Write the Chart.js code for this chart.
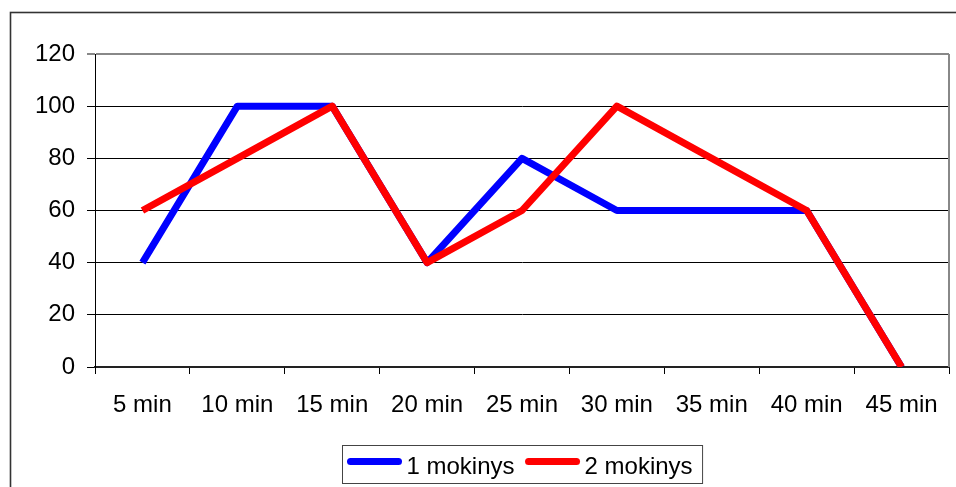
<!DOCTYPE html>
<html>
<head>
<meta charset="utf-8">
<script src="https://cdn.jsdelivr.net/npm/chart.js@4/dist/chart.umd.min.js"></script>
<style>
  html, body { margin: 0; padding: 0; background: #fff; }
  #wrap { width: 956px; height: 487px; }
</style>
</head>
<body>
<div id="wrap"><canvas id="c" width="956" height="487"></canvas></div>
<script>
const categories = ['5 min', '10 min', '15 min', '20 min', '25 min', '30 min', '35 min', '40 min', '45 min'];
const mokinys1 = [40, 100, 100, 40, 80, 60, 60, 60, 0];
const mokinys2 = [60, 80, 100, 40, 60, 100, 80, 60, 0];
const yTicks = { min: 0, max: 120, step: 20 };

const FONT = '"Liberation Sans", Arial, sans-serif';

// Outer frame and the grey right edge of the plot area
const framePlugin = {
  id: 'frame',
  beforeDraw(chart) {
    const ctx = chart.ctx;
    ctx.save();
    ctx.fillStyle = '#fff';
    ctx.fillRect(0, 0, chart.width, chart.height);
    ctx.strokeStyle = '#333';
    ctx.lineWidth = 1.6;
    ctx.strokeRect(10.5, 12.5, chart.width + 20, chart.height + 20);
    ctx.restore();
  },
  afterDatasetsDraw(chart) {
    const { right, top, bottom } = chart.chartArea;
    const ctx = chart.ctx;
    ctx.save();
    ctx.strokeStyle = '#888';
    ctx.lineWidth = 2;
    ctx.beginPath();
    ctx.moveTo(right, top);
    ctx.lineTo(right, bottom);
    ctx.stroke();
    ctx.restore();
  }
};

// Boxed legend under the axis, built from the datasets
const boxedLegend = {
  id: 'boxedLegend',
  afterDraw(chart) {
    const ctx = chart.ctx;
    const { left, right } = chart.chartArea;
    ctx.save();
    ctx.font = '24px ' + FONT;
    const sample = 54, gap = 5, itemGap = 11, padL = 5, padR = 10;
    const items = chart.data.datasets.map(ds => ({
      label: ds.label, color: ds.borderColor, w: ctx.measureText(ds.label).width
    }));
    let total = padL + padR + itemGap * (items.length - 1);
    items.forEach(it => { total += sample + gap + it.w; });
    const boxLeft = Math.round((left + right) / 2 - total / 2) + 0.5;
    const boxBottom = chart.height - 3.5;
    const boxTop = boxBottom - 38;
    ctx.strokeStyle = '#444';
    ctx.lineWidth = 1;
    ctx.strokeRect(boxLeft, boxTop, total, boxBottom - boxTop);
    let x = boxLeft + padL;
    const lineY = boxTop + 16;
    items.forEach(it => {
      ctx.strokeStyle = it.color;
      ctx.lineWidth = 7;
      ctx.lineCap = 'round';
      ctx.beginPath();
      ctx.moveTo(x + 3, lineY);
      ctx.lineTo(x + sample - 3, lineY);
      ctx.stroke();
      x += sample + gap;
      ctx.fillStyle = '#000';
      ctx.textBaseline = 'alphabetic';
      ctx.textAlign = 'left';
      ctx.fillText(it.label, x, boxTop + 28);
      x += it.w + itemGap;
    });
    ctx.restore();
  }
};

new Chart(document.getElementById('c'), {
  type: 'line',
  data: {
    labels: categories,
    datasets: [
      {
        label: '1 mokinys',
        data: mokinys1,
        borderColor: '#0000ff',
        backgroundColor: '#0000ff',
        borderWidth: 7,
        pointRadius: 0,
        tension: 0,
        borderJoinStyle: 'round',
        order: 1
      },
      {
        label: '2 mokinys',
        data: mokinys2,
        borderColor: '#ff0000',
        backgroundColor: '#ff0000',
        borderWidth: 7,
        pointRadius: 0,
        tension: 0,
        borderJoinStyle: 'round',
        order: 0
      }
    ]
  },
  options: {
    responsive: false,
    animation: false,
    devicePixelRatio: 1,
    layout: { padding: { left: 0, right: 7, top: 54, bottom: 0 } },
    plugins: {
      legend: { display: false },
      tooltip: { enabled: false },
      title: { display: false }
    },
    scales: {
      x: {
        offset: true,
        grid: {
          offset: true,
          drawOnChartArea: false,
          drawTicks: true,
          tickLength: 7,
          color: '#000',
          lineWidth: 1
        },
        border: { display: true, color: '#222', width: 2 },
        ticks: {
          color: '#000',
          font: { family: FONT, size: 24 },
          padding: 17,
          maxRotation: 0,
          autoSkip: false
        },
        afterFit(scale) { scale.height = 120; }
      },
      y: {
        min: yTicks.min,
        max: yTicks.max,
        grid: {
          drawTicks: true,
          tickLength: 8,
          color: ctx => (ctx.tick && ctx.tick.value === yTicks.max ? '#888' : '#000'),
          lineWidth: ctx => (ctx.tick && ctx.tick.value === yTicks.max ? 2 : 1)
        },
        border: { display: true, color: '#000', width: 1 },
        ticks: {
          stepSize: yTicks.step,
          color: '#000',
          font: { family: FONT, size: 24 },
          padding: 12
        },
        afterFit(scale) { scale.width = 95; }
      }
    }
  },
  plugins: [framePlugin, boxedLegend]
});
</script>
</body>
</html>
